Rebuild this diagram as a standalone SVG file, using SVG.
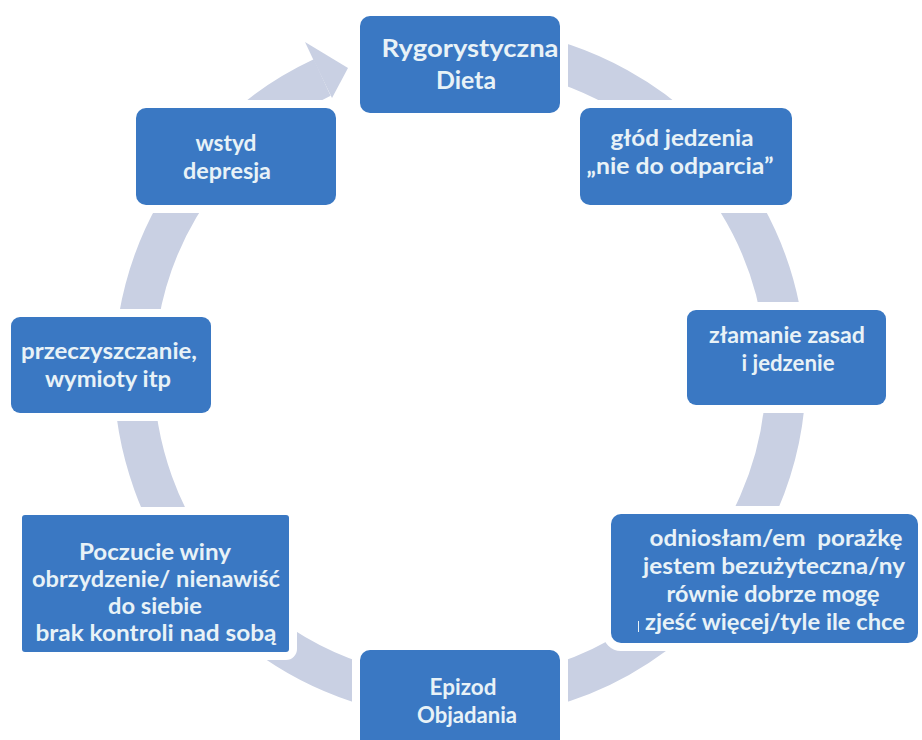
<svg xmlns="http://www.w3.org/2000/svg" width="922" height="740" viewBox="0 0 922 740">
<defs>
<style>
.box{fill:#3a78c3;stroke:#ffffff;stroke-width:16;paint-order:stroke}
.t{font-family:Lato,"Liberation Sans",sans-serif;font-weight:bold;font-size:22px;fill:#e8f2f7;text-anchor:middle}
.big{font-size:25px}
.ring{fill:none;stroke:#c9d0e3;stroke-width:40}
.head{fill:#c9d0e3}
</style>
</defs>
<rect width="922" height="740" fill="#ffffff"/>
<g id="connectors">
<path class="ring" d="M 477.1 47.4 A 326 326 0 1 1 322.2 77.5"/>
<polygon class="head" points="313,59 305,42 348,68 332,98"/>
</g>
<g id="n1">
<rect class="box" x="360" y="16" width="200" height="97" rx="10"/>
<text class="t big" x="470" y="57" textLength="177" lengthAdjust="spacingAndGlyphs">Rygorystyczna</text>
<text class="t big" x="466" y="89" textLength="60" lengthAdjust="spacingAndGlyphs">Dieta</text>
</g>
<g id="n2">
<rect class="box" x="580" y="108" width="212" height="97" rx="10"/>
<text class="t" x="682" y="146" textLength="143" lengthAdjust="spacingAndGlyphs">głód jedzenia</text>
<text class="t" x="680" y="174" textLength="187" lengthAdjust="spacingAndGlyphs">„nie do odparcia”</text>
</g>
<g id="n3">
<rect class="box" x="687" y="310" width="199" height="95" rx="9"/>
<text class="t" x="787" y="343" textLength="156" lengthAdjust="spacingAndGlyphs">złamanie zasad</text>
<text class="t" x="788" y="371" textLength="93" lengthAdjust="spacingAndGlyphs">i jedzenie</text>
</g>
<g id="n4">
<rect class="box" x="611" y="514" width="307" height="129" rx="10"/>
<text class="t" x="776" y="546" textLength="253" lengthAdjust="spacingAndGlyphs" xml:space="preserve">odniosłam/em  porażkę</text>
<text class="t" x="774" y="574" textLength="262" lengthAdjust="spacingAndGlyphs">jestem bezużyteczna/ny</text>
<text class="t" x="773" y="602" textLength="213" lengthAdjust="spacingAndGlyphs">równie dobrze mogę</text>
<text class="t" x="775" y="630" textLength="260" lengthAdjust="spacingAndGlyphs">zjeść więcej/tyle ile chce</text>
<line x1="638.5" y1="621" x2="638.5" y2="632" stroke="#e8f2f7" stroke-width="1"/>
</g>
<g id="n5">
<rect class="box" x="360" y="650" width="200" height="100" rx="10"/>
<text class="t" x="463" y="695" textLength="67" lengthAdjust="spacingAndGlyphs">Epizod</text>
<text class="t" x="467" y="723" textLength="100" lengthAdjust="spacingAndGlyphs">Objadania</text>
</g>
<g id="n6">
<rect class="box" x="22" y="515" width="267" height="137" rx="3"/>
<text class="t" x="155" y="560" textLength="152" lengthAdjust="spacingAndGlyphs">Poczucie winy</text>
<text class="t" x="156" y="587" textLength="248" lengthAdjust="spacingAndGlyphs">obrzydzenie/ nienawiść</text>
<text class="t" x="155" y="614" textLength="94" lengthAdjust="spacingAndGlyphs">do siebie</text>
<text class="t" x="156" y="641" textLength="241" lengthAdjust="spacingAndGlyphs">brak kontroli nad sobą</text>
</g>
<g id="n7">
<rect class="box" x="11" y="317" width="200" height="96" rx="9"/>
<text class="t" x="109" y="359" textLength="176" lengthAdjust="spacingAndGlyphs">przeczyszczanie,</text>
<text class="t" x="108" y="387" textLength="126" lengthAdjust="spacingAndGlyphs">wymioty itp</text>
</g>
<g id="n8">
<rect class="box" x="136" y="108" width="200" height="97" rx="10"/>
<text class="t" x="226" y="151" textLength="61" lengthAdjust="spacingAndGlyphs">wstyd</text>
<text class="t" x="227" y="179" textLength="88" lengthAdjust="spacingAndGlyphs">depresja</text>
</g>
</svg>
